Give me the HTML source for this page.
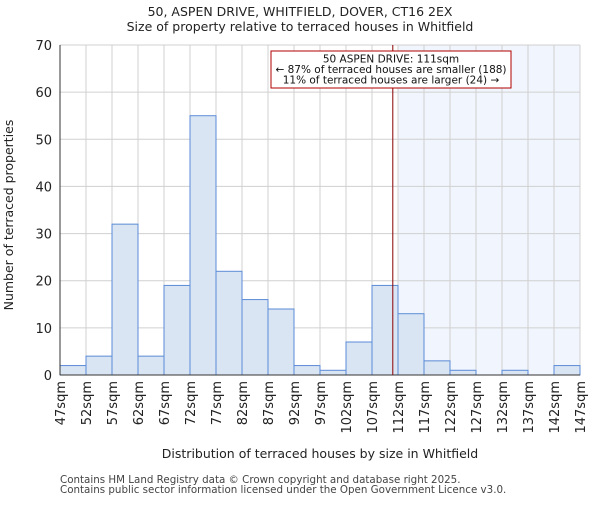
<!DOCTYPE html>
<html><head><meta charset="utf-8"><style>body{margin:0;background:#fff}svg{font-family:"DejaVu Sans","Liberation Sans",sans-serif}</style></head>
<body>
<svg id="c" width="600" height="500"></svg>
<script>
const categories=["47sqm","52sqm","57sqm","62sqm","67sqm","72sqm","77sqm","82sqm","87sqm","92sqm","97sqm","102sqm","107sqm","112sqm","117sqm","122sqm","127sqm","132sqm","137sqm","142sqm","147sqm"];
const binStarts=[47,52,57,62,67,72,77,82,87,92,97,102,107,112,117,122,127,132,137,142];
const counts=[2,4,32,4,19,55,22,16,14,2,1,7,19,13,3,1,0,1,0,2];
const yTicks=[0,10,20,30,40,50,60,70];
const propertySize=111;
const L=60,R=580,T=45,B=375,xmin=47,xmax=147,ymax=70;
const x=v=>L+(v-xmin)/(xmax-xmin)*(R-L);
const y=v=>B-v/ymax*(B-T);
const s=document.getElementById('c');const NS='http://www.w3.org/2000/svg';
function mk(t,a,p){const e=document.createElementNS(NS,t);for(const k in a)e.setAttribute(k,a[k]);(p||s).appendChild(e);return e;}
let e;
e=mk('rect',{x:x(112),y:T,width:R-x(112),height:B-T,fill:'#eef3fc',opacity:0.8});


binStarts.concat([147]).forEach(v=>{e=mk('line',{x1:x(v),x2:x(v),y1:T,y2:B,stroke:'#d0d0d0'});

});
yTicks.forEach(v=>{e=mk('line',{x1:L,x2:R,y1:y(v),y2:y(v),stroke:'#d0d0d0'});


e=mk('text',{x:L-8,y:y(v)+5,'text-anchor':'end','font-size':13,fill:'#222'});e.textContent=v;

});
counts.forEach((c,i)=>{const x0=x(binStarts[i]),x1=x(binStarts[i]+5);
e=mk('rect',{x:x0,y:y(c),width:x1-x0,height:B-y(c),fill:'#dae5f4',stroke:'#5b8bd6','stroke-width':1});

});
e=mk('line',{x1:L,x2:R,y1:B,y2:B,stroke:'#333'});


e=mk('line',{x1:L,x2:L,y1:T,y2:B,stroke:'#333'});


categories.forEach((c,i)=>{const xv=x(xmin+5*i);
e=mk('text',{transform:`translate(${xv+5},${B+6}) rotate(-90)`,'text-anchor':'end','font-size':13,fill:'#222'});e.textContent=c;

});
e=mk('line',{x1:x(propertySize),x2:x(propertySize),y1:T,y2:B,stroke:'#8a0000','stroke-width':1});


e=mk('rect',{x:271,y:51,width:240,height:37,fill:'#fff',stroke:'#b00000'});


["50 ASPEN DRIVE: 111sqm","← 87% of terraced houses are smaller (188)","11% of terraced houses are larger (24) →"].forEach((t,i)=>{
e=mk('text',{x:391,y:62.5+i*10.5,'text-anchor':'middle','font-size':10.5,fill:'#111'});e.textContent=t;

});
[["50, ASPEN DRIVE, WHITFIELD, DOVER, CT16 2EX",16,'chart-title'],["Size of property relative to terraced houses in Whitfield",31,'chart-subtitle']].forEach(a=>{
e=mk('text',{x:300,y:a[1],'text-anchor':'middle','font-size':12.5,fill:'#222'});e.textContent=a[0];

});
e=mk('text',{x:320,y:458,'text-anchor':'middle','font-size':12.5,fill:'#222'});e.textContent="Distribution of terraced houses by size in Whitfield";


e=mk('text',{transform:'translate(13,215) rotate(-90)','text-anchor':'middle','font-size':12.5,fill:'#222'});e.textContent="Number of terraced properties";


["Contains HM Land Registry data © Crown copyright and database right 2025.","Contains public sector information licensed under the Open Government Licence v3.0."].forEach((t,i)=>{
e=mk('text',{x:60,y:483+i*10,'font-size':10.3,fill:'#444'});e.textContent=t;

});
</script>
</body></html>
